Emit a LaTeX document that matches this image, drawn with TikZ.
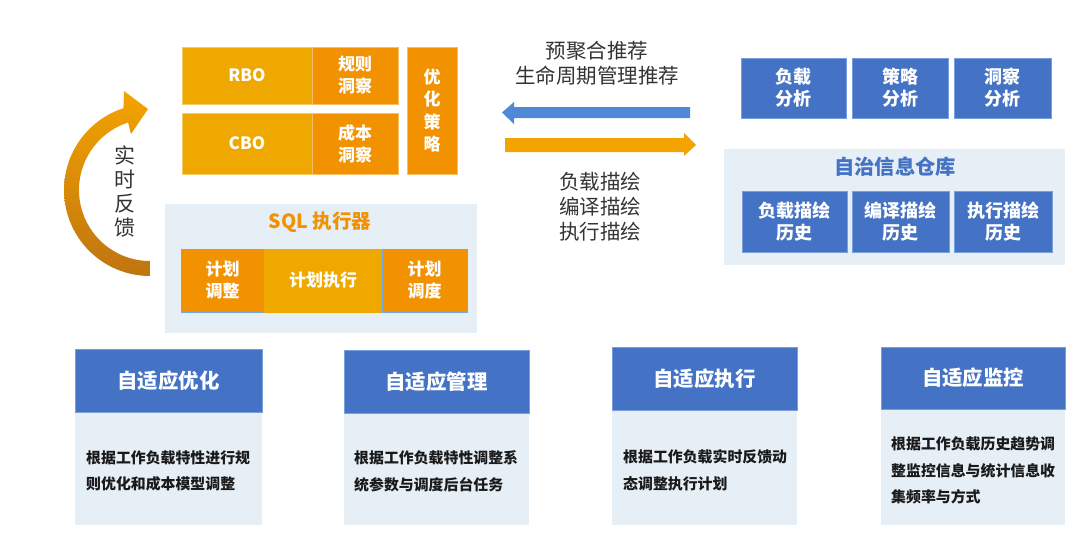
\documentclass[tikz,border=0pt]{standalone}
\usepackage{fontspec}
\setmainfont{Noto Sans CJK SC}
\definecolor{gold}{HTML}{EFA800}
\definecolor{deeporange}{HTML}{F39200}
\definecolor{boxblue}{HTML}{4472C4}
\definecolor{edgeblue}{HTML}{7A9FE0}
\definecolor{panel}{HTML}{E6EEF6}
\definecolor{txtgray}{HTML}{333333}
\definecolor{txtdark}{HTML}{1A1A1A}
\definecolor{arrowblue}{HTML}{5088D8}
\definecolor{arroworange}{HTML}{F4A400}
\definecolor{arrowbrown}{HTML}{BF7410}
\definecolor{sqledge}{HTML}{6FAAE6}
\begin{document}
\begin{tikzpicture}[x=1pt,y=-1pt,
  cell/.style={rectangle, inner sep=0pt, outer sep=0pt, anchor=north west, align=center, text=white},
  goldcell/.style={cell, fill=gold, draw=gold!60!white, line width=0.5pt, font=\fontsize{17}{22}\selectfont\bfseries},
  orangecell/.style={cell, fill=deeporange, draw=deeporange!60!white, line width=0.5pt, font=\fontsize{17}{22}\selectfont\bfseries},
  sqlcell/.style={cell, draw=sqledge, line width=0.8pt, font=\fontsize{17}{22}\selectfont\bfseries},
  bluecell/.style={cell, fill=boxblue, draw=edgeblue, line width=0.6pt, font=\fontsize{18}{22}\selectfont\bfseries},
  panelbox/.style={rectangle, inner sep=0pt, outer sep=0pt, anchor=north west, fill=panel},
  header/.style={cell, fill=boxblue, draw=edgeblue, line width=0.8pt, font=\fontsize{20.4}{24}\selectfont\bfseries},
  body/.style={rectangle, inner sep=0pt, anchor=west, align=left, text=txtdark},
  label/.style={inner sep=0pt, align=center, text=txtgray, font=\fontsize{20.5}{24.5}\selectfont}
]
\useasboundingbox (0,0) rectangle (1080,536);

% ---------- optimizer block ----------
\node[goldcell, minimum width=130, minimum height=57] (rbo) at (182,47) {RBO};
\node[orangecell, minimum width=86, minimum height=57] (rule) at (312,47) {规则\\洞察};
\node[goldcell, minimum width=130, minimum height=61] (cbo) at (182,113) {CBO};
\node[orangecell, minimum width=86, minimum height=61] (cost) at (312,113) {成本\\洞察};
\node[orangecell, minimum width=50, minimum height=127, font=\fontsize{17}{22.5}\selectfont\bfseries] (strategy) at (407,47) {优\\化\\策\\略};

% ---------- SQL executor ----------
\node[panelbox, minimum width=312, minimum height=129] (sqlpanel) at (165,204) {};
\node[inner sep=0pt, text=deeporange, font=\fontsize{19.5}{22}\selectfont\bfseries] (sqltitle) at (320,222) {SQL 执行器};
\node[sqlcell, fill=deeporange, minimum width=83, minimum height=63] (adjust) at (181,249) {计划\\调整};
\node[sqlcell, fill=gold, draw=gold, minimum width=118, minimum height=63] (exec) at (264,249) {计划执行};
\node[sqlcell, fill=deeporange, minimum width=85, minimum height=63] (sched) at (382,249) {计划\\调度};

% ---------- feedback curved arrow ----------
\shade[top color=arroworange, bottom color=arrowbrown]
  (150,276) arc[start angle=90, end angle=252, radius=86]
  -- (124,91) -- (148,109) -- (131,134) -- (128.06,122.52)
  arc[start angle=252, end angle=90, radius=71] -- cycle;
\node[label, font=\fontsize{21}{24}\selectfont] (feedback) at (125,191) {实\\时\\反\\馈};

% ---------- middle arrows ----------
\node[label] (recommend) at (597,63) {预聚合推荐\\生命周期管理推荐};
\fill[arrowblue] (690,107) -- (514,107) -- (514,102) -- (502,112.5) -- (514,124) -- (514,118) -- (690,118) -- cycle;
\fill[arroworange] (505,138) -- (684,138) -- (684,133) -- (696,145) -- (684,156) -- (684,152) -- (505,152) -- cycle;
\node[label, font=\fontsize{20.5}{25}\selectfont] (profile) at (600,207) {负载描绘\\编译描绘\\执行描绘};

% ---------- analysis + repository ----------
\node[bluecell, minimum width=105, minimum height=60] (loadana) at (741,58) {负载\\分析};
\node[bluecell, minimum width=96, minimum height=60] (stratana) at (852,58) {策略\\分析};
\node[bluecell, minimum width=97, minimum height=60] (insightana) at (954,58) {洞察\\分析};
\node[panelbox, minimum width=341, minimum height=116] (repo) at (724,149) {};
\node[inner sep=0pt, text=boxblue, font=\fontsize{20.3}{24}\selectfont\bfseries] (repotitle) at (895,167) {自治信息仓库};
\node[bluecell, minimum width=105, minimum height=61] (loadhist) at (742,191) {负载描绘\\历史};
\node[bluecell, minimum width=97, minimum height=61] (comphist) at (852,191) {编译描绘\\历史};
\node[bluecell, minimum width=98, minimum height=61] (exechist) at (954,191) {执行描绘\\历史};

% ---------- bottom cards ----------
\node[panelbox, minimum width=187, minimum height=113] (b1) at (75,412) {};
\node[header, minimum width=187, minimum height=63] (h1) at (75,349) {自适应优化};
\node[body, font=\fontsize{14.9}{26.5}\selectfont\bfseries] (t1) at (86,471) {根据工作负载特性进行规\\则优化和成本模型调整};

\node[panelbox, minimum width=185, minimum height=112] (b2) at (344,413) {};
\node[header, minimum width=185, minimum height=63] (h2) at (344,350) {自适应管理};
\node[body, font=\fontsize{14.9}{26.8}\selectfont\bfseries] (t2) at (354,471.5) {根据工作负载特性调整系\\统参数与调度后台任务};

\node[panelbox, minimum width=185, minimum height=115] (b3) at (612,410) {};
\node[header, minimum width=185, minimum height=63] (h3) at (612,347) {自适应执行};
\node[body, font=\fontsize{14.9}{26.8}\selectfont\bfseries] (t3) at (623,470.5) {根据工作负载实时反馈动\\态调整执行计划};

\node[panelbox, minimum width=184, minimum height=116] (b4) at (881,409) {};
\node[header, minimum width=184, minimum height=62] (h4) at (881,347) {自适应监控};
\node[body, font=\fontsize{14.9}{26.5}\selectfont\bfseries] (t4) at (891,470.5) {根据工作负载历史趋势调\\整监控信息与统计信息收\\集频率与方式};
\end{tikzpicture}
\end{document}
